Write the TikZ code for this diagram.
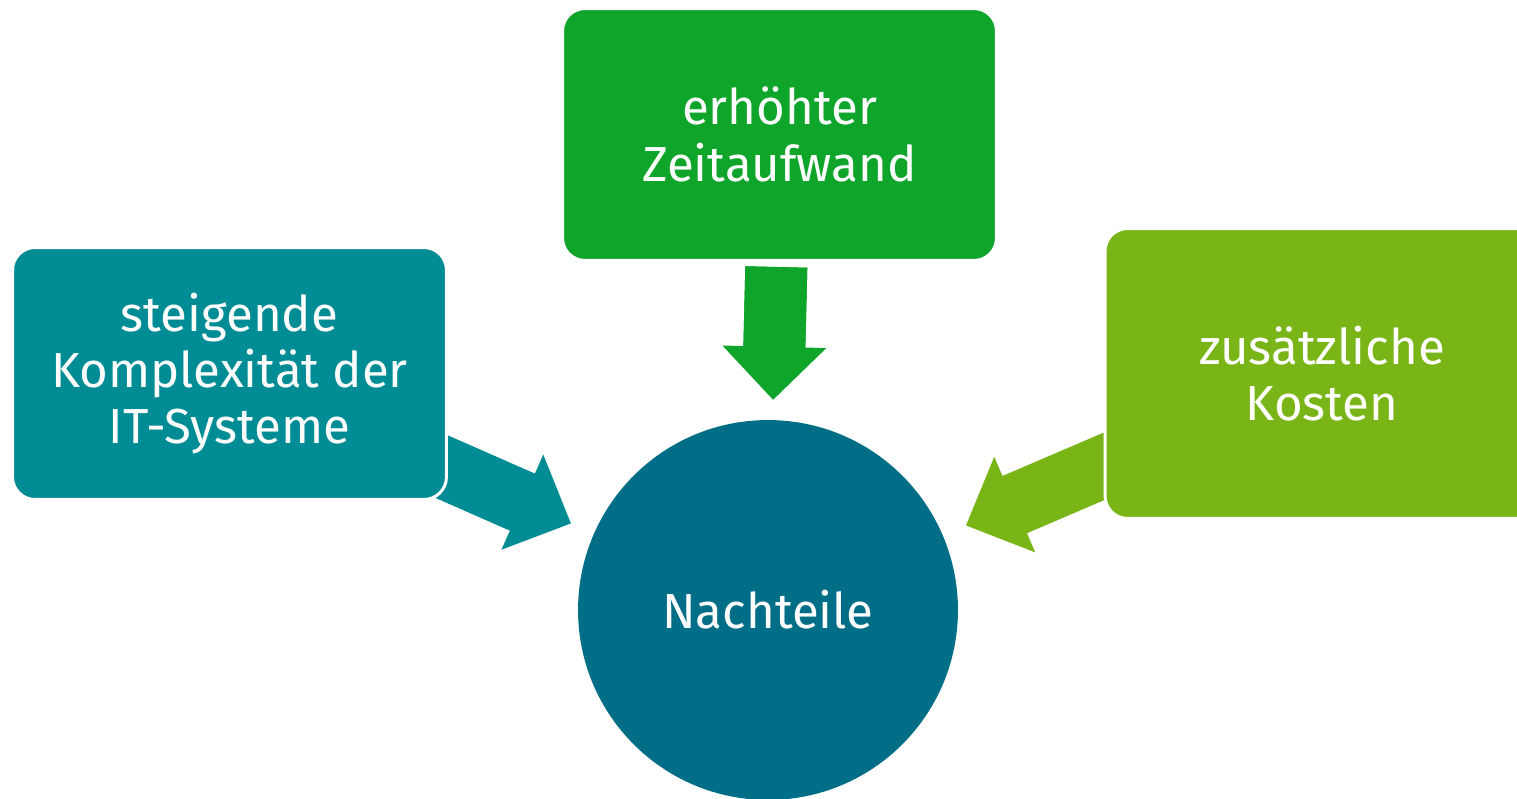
\documentclass[tikz,border=0pt]{standalone}
\usepackage{fontspec}
\setmainfont{Fira Sans}
\usepackage{xcolor}
\usepackage{tikz}
\usetikzlibrary{positioning, arrows.meta, backgrounds}
\definecolor{nbTeal}{HTML}{008C95}
\definecolor{nbGreen}{HTML}{0FA52B}
\definecolor{nbLime}{HTML}{7AB518}
\definecolor{nbPetrol}{HTML}{006E87}
\tikzset{
  factor/.style={
    rectangle, rounded corners=0.45cm,
    draw=white, line width=0.06cm,
    fill=#1,
    inner sep=6pt,
    minimum width=8.68cm, minimum height=5.04cm,
    align=center, text=white,
    font=\fontsize{28}{32}\selectfont
  },
  hub/.style={
    circle, fill=nbPetrol,
    minimum size=7.6cm, inner sep=0pt,
    align=center, text=white,
    font=\fontsize{28}{32}\selectfont
  },
  blockarrow/.style 2 args={
    draw=#1, line width=1.24cm, shorten >=#2,
    -{Triangle[width=2.08cm, length=1.06cm, line width=0pt]},
    postaction={draw=#1, -, shorten >=#2+0.8cm}
  }
}
\begin{document}
\begin{tikzpicture}[x=0.02cm, y=-0.02cm]
      \clip (0,0) rectangle (1517,798);
      \node[hub] (circ) at (768, 610) {Nachteile};
      \node[factor=nbTeal] (komplex) at (229.5, 373.5) {steigende\\Komplexität der\\IT-Systeme};
      \node[factor=nbGreen] (zeit) at (779.5, 134.5) {erhöhter\\Zeitaufwand};
      \node[factor=nbLime, minimum height=5.8cm] (kosten) at (1322, 373.5) {zusätzliche\\Kosten};
      \begin{scope}[on background layer]
        \draw[blockarrow={nbTeal}{0.5cm}, shorten <=-0.8cm] (komplex) -- (circ);
        \draw[blockarrow={nbGreen}{0.4cm}, shorten <=0.1cm] (zeit) -- (circ);
        \draw[blockarrow={nbLime}{0.5cm}, shorten <=-0.8cm] (kosten) -- (circ);
      \end{scope}
    \end{tikzpicture}
\end{document}
